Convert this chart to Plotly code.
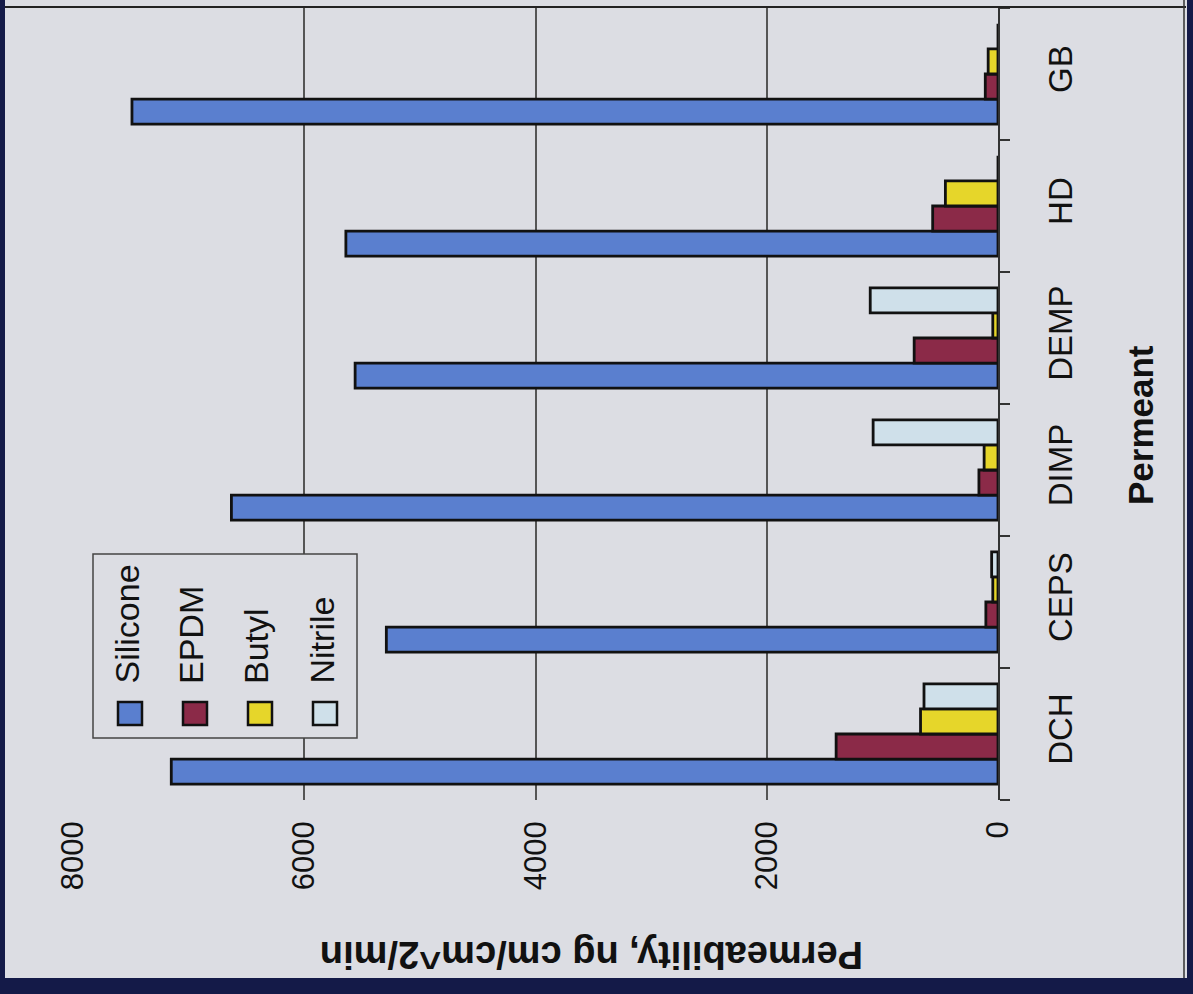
import plotly.graph_objects as go

categories = ["DCH", "CEPS", "DIMP", "DEMP", "HD", "GB"]
silicone = [7150, 5290, 6630, 5560, 5640, 7490]
epdm = [1400, 105, 165, 725, 565, 110]
butyl = [670, 45, 120, 45, 455, 85]
nitrile = [640, 55, 1080, 1105, 0, 0]
series_names = ["Silicone", "EPDM", "Butyl", "Nitrile"]
value_ticks = [0, 2000, 4000, 6000, 8000]

colors = ["#5a7fcf", "#8b2a48", "#e6d62a", "#cfe0ea"]
BG = "#dcdde3"
NAVY = "#141a48"
W, H = 1193, 994
L, R, T, B = 73, 998, 8, 800  # plot area in pixels


def px(X):
    return (X - L) / (R - L)


def py(Y):
    return (B - Y) / (B - T)


fig = go.Figure()
for name, vals, col in zip(series_names, [silicone, epdm, butyl, nitrile], colors):
    fig.add_trace(go.Bar(
        y=categories, x=vals, name=name, orientation="h",
        marker=dict(color=col, line=dict(color="#111111", width=2.8)),
        showlegend=False,
    ))

font_family = "Liberation Sans, Arial, sans-serif"

fig.update_layout(
    width=W, height=H,
    margin=dict(l=L, r=W - R, t=T, b=H - B, autoexpand=False),
    paper_bgcolor=BG, plot_bgcolor=BG,
    barmode="group", bargap=0.24, bargroupgap=0,
    font=dict(family=font_family, color="#111111"),
    xaxis=dict(
        range=[8000, 0], tickvals=value_ticks, ticktext=[str(v) for v in value_ticks],
        tickangle=-90, tickfont=dict(size=31), showgrid=True,
        gridcolor="#555555", gridwidth=1.5, zeroline=False, showline=False,
        ticks="", ticklabelstandoff=14,
    ),
    yaxis=dict(
        categoryorder="array", categoryarray=categories, side="right",
        tickangle=-90, tickfont=dict(size=33), showline=True, linecolor="#333333",
        linewidth=2, ticks="outside", ticklen=10, tickcolor="#333333", tickwidth=1.5,
        tickson="boundaries", showgrid=False, ticklabelstandoff=32,
    ),
)

shapes = []
# page frame elements
shapes.append(dict(type="line", xref="paper", yref="paper", x0=px(5), x1=px(1186),
                   y0=py(7), y1=py(7), line=dict(color="#222222", width=2)))
shapes.append(dict(type="line", xref="paper", yref="paper", x0=px(1184), x1=px(1184),
                   y0=py(0), y1=py(978), line=dict(color="#333333", width=1.5)))
# navy borders
shapes.append(dict(type="rect", xref="paper", yref="paper", x0=px(0), x1=px(5),
                   y0=py(0), y1=py(H), fillcolor=NAVY, line=dict(width=0)))
shapes.append(dict(type="rect", xref="paper", yref="paper", x0=px(1187), x1=px(W),
                   y0=py(0), y1=py(H), fillcolor=NAVY, line=dict(width=0)))
shapes.append(dict(type="rect", xref="paper", yref="paper", x0=px(0), x1=px(W),
                   y0=py(978), y1=py(H), fillcolor=NAVY, line=dict(width=0)))
# legend box
shapes.append(dict(type="rect", xref="paper", yref="paper", x0=px(93), x1=px(357),
                   y0=py(554), y1=py(738), fillcolor=BG, line=dict(color="#444444", width=1.5)))

annotations = []
leg_x = [130, 195, 260, 325]
for i, (name, col) in enumerate(zip(series_names, colors)):
    cx = leg_x[i]
    shapes.append(dict(type="rect", xref="paper", yref="paper",
                       x0=px(cx - 12), x1=px(cx + 12), y0=py(702), y1=py(725),
                       fillcolor=col, line=dict(color="#111111", width=2.5)))
    annotations.append(dict(xref="paper", yref="paper", x=px(cx - 4), y=py(686),
                            text=name, textangle=-90, showarrow=False,
                            xanchor="center", yanchor="bottom",
                            font=dict(size=34, family=font_family, color="#111111")))

annotations.append(dict(xref="paper", yref="paper", x=px(592), y=py(955),
                        text="<b>Permeability, ng cm/cm^2/min</b>", textangle=180,
                        showarrow=False, xanchor="center", yanchor="middle",
                        font=dict(size=38, family=font_family, color="#111111")))
annotations.append(dict(xref="paper", yref="paper", x=px(1140), y=py(425),
                        text="<b>Permeant</b>", textangle=-90,
                        showarrow=False, xanchor="center", yanchor="middle",
                        font=dict(size=35, family=font_family, color="#111111")))

fig.update_layout(shapes=shapes, annotations=annotations)
fig.write_html(
    "out.html",
    config={"displayModeBar": False},
    post_script="document.body.style.margin='0';document.body.style.padding='0';"
                "document.body.style.overflow='hidden';",
)
